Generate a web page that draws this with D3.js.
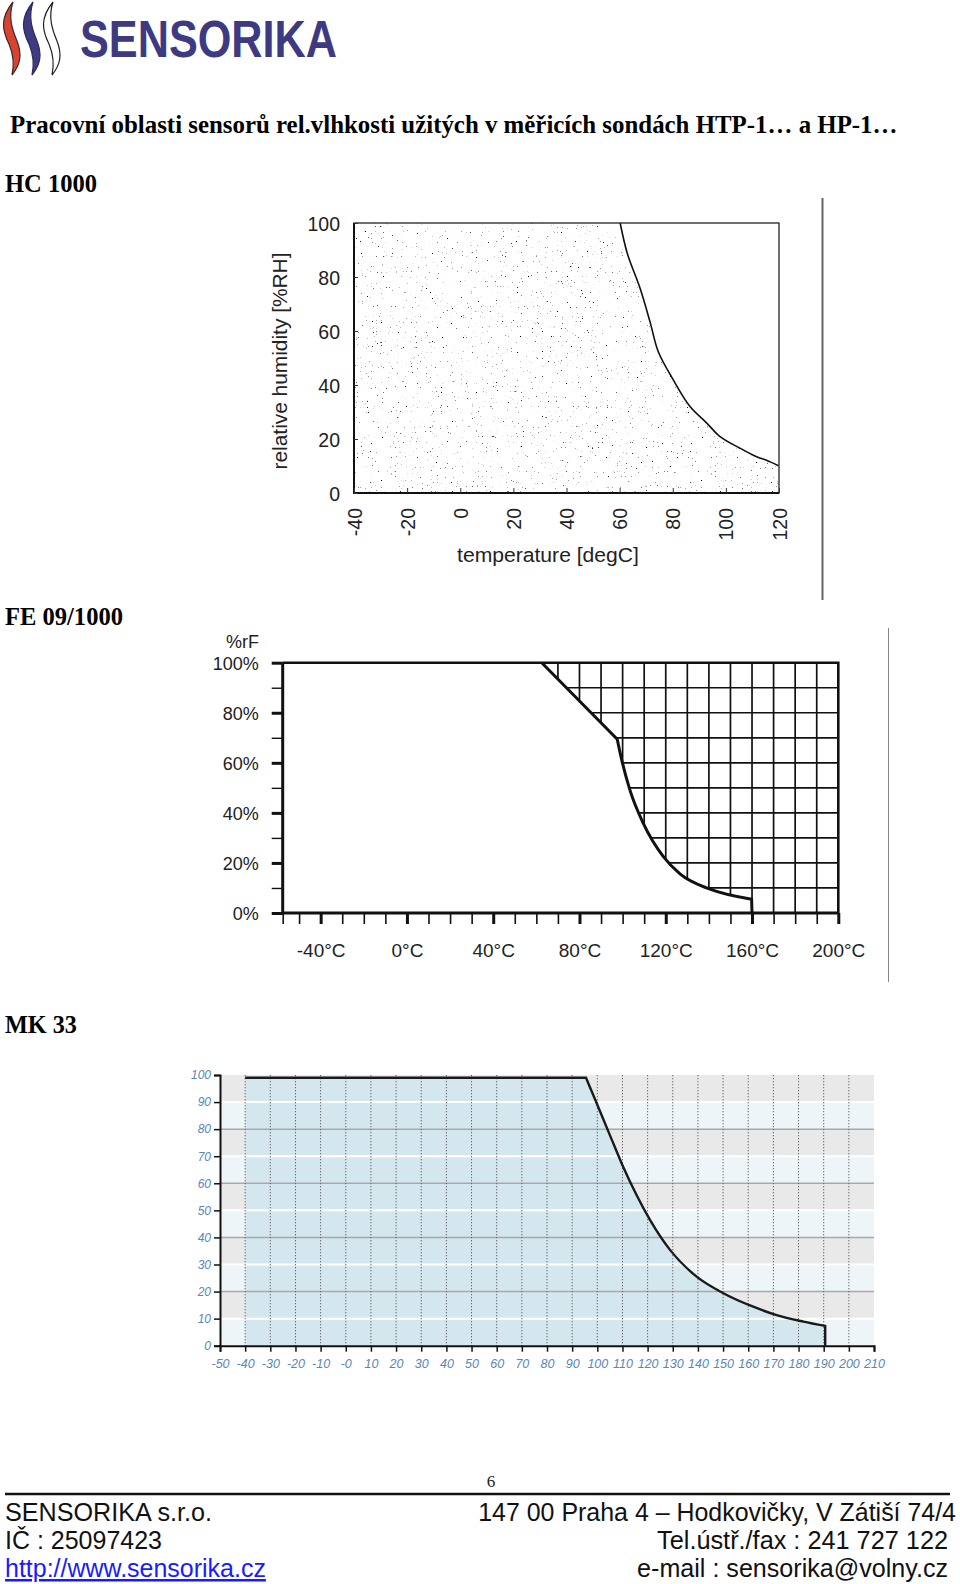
<!DOCTYPE html>
<html>
<head>
<meta charset="utf-8">
<script src="https://cdn.jsdelivr.net/npm/d3@7"></script>
<style>
  body { margin: 0; background: #fff; }
  svg { display: block; }
</style>
</head>
<body>
<div id="page"></div>
<script>
// ---- data ----
// HC 1000 : upper limit of the working area (temperature degC, %RH)
var hcTemp = [60.2, 62.9, 67.7, 71.5, 74.6, 80.2, 86.5, 92.8, 97.8, 105.3, 111.6, 115.3, 119.8];
var hcRh   = [100, 88.7, 75.8, 63.2, 52.2, 41.9, 32, 25.9, 20.9, 16.6, 13.4, 12.1, 10.1];
var hcXTicks = [-40, -20, 0, 20, 40, 60, 80, 100, 120];
var hcYTicks = [0, 20, 40, 60, 80, 100];

// FE 09/1000 : border of the hatched (not allowed) area
var feLineTemp  = [62.5, 97.5];
var feLineRh    = [100, 69.4];
var feCurveTemp = [97.5, 99.6, 103.4, 109.6, 118.9, 126.6, 140.5, 159.8];
var feCurveRh   = [69.4, 61.1, 49.1, 35.8, 22.5, 15.6, 9.5, 5.5];
var feXLabels = ["-40°C", "0°C", "40°C", "80°C", "120°C", "160°C", "200°C"];
var feXLabelTemp = [-40, 0, 40, 80, 120, 160, 200];
var feYLabels = ["0%", "20%", "40%", "60%", "80%", "100%"];

// MK 33 : working area
var mkFlatTemp = [-40, 95.5];
var mkFlatRh = 99;
var mkTemp = [95.5, 100, 105, 110, 115.7, 121, 128.9, 139.5, 150.1, 162, 171.3, 181.9, 190.6];
var mkRh   = [99, 89, 77.8, 66.7, 55.5, 46.4, 35.4, 25.5, 19.4, 14.4, 11.3, 8.9, 7.3];
var mkXLabels = ["-50","-40","-30","-20","-10","-0","10","20","30","40","50","60","70","80","90","100",
                 "110","120","130","140","150","160","170","180","190","200","210"];
var mkYTicks = [0, 10, 20, 30, 40, 50, 60, 70, 80, 90, 100];

var sans = "Liberation Sans, Arial, sans-serif";
var serif = "Liberation Serif, Times New Roman, serif";

var svg = d3.select("#page").append("svg")
  .attr("width", 960).attr("height", 1584);
svg.append("rect").attr("width", 960).attr("height", 1584).attr("fill", "#fff");
var defs = svg.append("defs");

// scale a text's font size so that it fills a given width
function fit(sel, w) {
  var fs = parseFloat(sel.attr("font-size"));
  var l = sel.node().getComputedTextLength();
  sel.attr("font-size", (fs * w / l).toFixed(2));
  return sel;
}

// ---- logo ----
var flames = [{ x: 4, fill: "#d8432f", stroke: "#3b2a2a" },
              { x: 24, fill: "#3f3b82", stroke: "#2c2960" },
              { x: 44, fill: "#fff", stroke: "#222" }];
function flamePath(o) {
  return "M" + (o + 9) + ",2" +
    "C" + (o - 4) + ",18 " + (o - 2) + ",30 " + (o + 5) + ",44" +
    "C" + (o + 10) + ",56 " + (o + 10) + ",66 " + (o + 8) + ",75" +
    "C" + (o + 17) + ",64 " + (o + 18) + ",54 " + (o + 13) + ",41" +
    "C" + (o + 8) + ",29 " + (o + 4) + ",17 " + (o + 9) + ",2Z";
}
svg.selectAll(".flame").data(flames).enter().append("path")
  .attr("class", "flame")
  .attr("d", function (d) { return flamePath(d.x); })
  .attr("fill", function (d) { return d.fill; })
  .attr("stroke", function (d) { return d.stroke; })
  .attr("stroke-width", 1.2);

svg.append("text")
  .attr("x", 80).attr("y", 57)
  .attr("font-family", sans).attr("font-weight", "bold")
  .attr("font-size", 51).attr("fill", "#3d3a82")
  .attr("textLength", 257).attr("lengthAdjust", "spacingAndGlyphs")
  .text("SENSORIKA");

// ---- headings ----
fit(svg.append("text").attr("x", 10).attr("y", 133)
  .attr("font-family", serif).attr("font-weight", "bold").attr("font-size", 22)
  .text("Pracovní oblasti sensorů rel.vlhkosti užitých v měřicích sondách HTP-1… a HP-1…"), 888);
fit(svg.append("text").attr("x", 5).attr("y", 192)
  .attr("font-family", serif).attr("font-weight", "bold").attr("font-size", 24)
  .text("HC 1000"), 92);
fit(svg.append("text").attr("x", 5).attr("y", 625)
  .attr("font-family", serif).attr("font-weight", "bold").attr("font-size", 24)
  .text("FE 09/1000"), 118);
fit(svg.append("text").attr("x", 5).attr("y", 1033)
  .attr("font-family", serif).attr("font-weight", "bold").attr("font-size", 24)
  .text("MK 33"), 72);

// =================== HC 1000 ===================
var x1 = d3.scaleLinear().domain([-40, 120]).range([354, 779]);
var y1 = d3.scaleLinear().domain([0, 100]).range([493, 223]);
var hcPts = hcTemp.map(function (t, i) { return [t, hcRh[i]]; });
var hcLine = d3.line().x(function (d) { return x1(d[0]); }).y(function (d) { return y1(d[1]); })
  .curve(d3.curveCatmullRom.alpha(0.5));

// sparse stipple texture of the allowed area
var stip = defs.append("filter").attr("id", "stipple")
  .attr("x", 0).attr("y", 0).attr("width", 1).attr("height", 1)
  .attr("color-interpolation-filters", "sRGB");
stip.append("feTurbulence").attr("type", "fractalNoise").attr("baseFrequency", 0.8)
  .attr("numOctaves", 2).attr("seed", 11);
stip.append("feColorMatrix").attr("type", "matrix")
  .attr("values", "0 0 0 0 0  0 0 0 0 0  0 0 0 0 0  7 0 0 0 -5.05");

var areaD = "M" + x1(-40) + "," + y1(0) + "L" + x1(-40) + "," + y1(100) +
  hcLine(hcPts).replace(/^M/, "L") + "L" + x1(120) + "," + y1(0) + "Z";
defs.append("clipPath").attr("id", "hcClip").append("path").attr("d", areaD);
svg.append("g").attr("clip-path", "url(#hcClip)")
  .append("rect")
  .attr("x", x1(-40)).attr("y", y1(100))
  .attr("width", x1(120) - x1(-40)).attr("height", y1(0) - y1(100))
  .attr("fill", "#000").attr("filter", "url(#stipple)");

svg.append("path").attr("d", hcLine(hcPts))
  .attr("fill", "none").attr("stroke", "#111").attr("stroke-width", 1.6);

// frame
svg.append("rect").attr("x", x1(-40)).attr("y", y1(100))
  .attr("width", x1(120) - x1(-40)).attr("height", y1(0) - y1(100))
  .attr("fill", "none").attr("stroke", "#222").attr("stroke-width", 1.3);
svg.append("path")
  .attr("d", "M" + x1(-40) + "," + y1(100) + "V" + y1(0) + "H" + x1(120))
  .attr("fill", "none").attr("stroke", "#111").attr("stroke-width", 2);

var gx1 = svg.append("g").attr("transform", "translate(0," + y1(0) + ")")
  .call(d3.axisBottom(x1).tickValues(hcXTicks).tickSize(-5).tickPadding(0).tickFormat(String));
gx1.select(".domain").remove();
gx1.selectAll(".tick line").attr("stroke", "#333");
gx1.selectAll(".tick text")
  .attr("font-family", sans).attr("font-size", 19.5).attr("fill", "#222")
  .attr("text-anchor", "end").attr("y", 0).attr("dy", "0.36em")
  .attr("transform", "translate(0,15) rotate(-90)");

var gy1 = svg.append("g").attr("transform", "translate(" + x1(-40) + ",0)")
  .call(d3.axisLeft(y1).tickValues(hcYTicks).tickSize(-4).tickPadding(0));
gy1.select(".domain").remove();
gy1.selectAll(".tick line").attr("stroke", "#333");
gy1.selectAll(".tick text")
  .attr("font-family", sans).attr("font-size", 19.5).attr("fill", "#222")
  .attr("x", -14).attr("dy", "0.36em");

fit(svg.append("text")
  .attr("transform", "translate(279,361) rotate(-90)")
  .attr("text-anchor", "middle").attr("dy", "0.36em")
  .attr("font-family", sans).attr("font-size", 18).attr("fill", "#222")
  .text("relative humidity [%RH]"), 217);
fit(svg.append("text")
  .attr("x", 548).attr("y", 562).attr("text-anchor", "middle")
  .attr("font-family", sans).attr("font-size", 18).attr("fill", "#222")
  .text("temperature [degC]"), 182);

svg.append("line").attr("x1", 822.5).attr("x2", 822.5).attr("y1", 198).attr("y2", 600)
  .attr("stroke", "#666").attr("stroke-width", 2);

// =================== FE 09/1000 ===================
var x2 = d3.scaleLinear().domain([-57.6, 200]).range([282.7, 838.3]);
var y2 = d3.scaleLinear().domain([0, 100]).range([913, 662.7]);
var feLin = d3.line().x(function (d) { return x2(d[0]); }).y(function (d) { return y2(d[1]); });
var feCur = d3.line().x(function (d) { return x2(d[0]); }).y(function (d) { return y2(d[1]); })
  .curve(d3.curveMonotoneX);
var fePtsA = feLineTemp.map(function (t, i) { return [t, feLineRh[i]]; });
var fePtsB = feCurveTemp.map(function (t, i) { return [t, feCurveRh[i]]; });
var feBorder = feLin(fePtsA) + feCur(fePtsB).replace(/^M[^A-Z]*/, "") +
  "L" + x2(160) + "," + y2(0);
var hatchD = feBorder + "L" + x2(200) + "," + y2(0) + "L" + x2(200) + "," + y2(100) + "Z";
defs.append("clipPath").attr("id", "feClip").append("path").attr("d", hatchD);

var gGrid2 = svg.append("g").attr("clip-path", "url(#feClip)");
gGrid2.selectAll(".vg").data(d3.range(50, 200, 10)).enter().append("line")
  .attr("x1", function (d) { return x2(d); }).attr("x2", function (d) { return x2(d); })
  .attr("y1", y2(100)).attr("y2", y2(0))
  .attr("stroke", "#111").attr("stroke-width", 1.7);
gGrid2.selectAll(".hg").data(d3.range(10, 100, 10)).enter().append("line")
  .attr("x1", x2(50)).attr("x2", x2(200))
  .attr("y1", function (d) { return y2(d); }).attr("y2", function (d) { return y2(d); })
  .attr("stroke", "#111").attr("stroke-width", 1.7);

svg.append("path").attr("d", feBorder)
  .attr("fill", "none").attr("stroke", "#111").attr("stroke-width", 3);

// frame lines
svg.append("path")
  .attr("d", "M" + x2(-57.6) + "," + y2(100) + "H" + x2(200) + "V" + y2(0))
  .attr("fill", "none").attr("stroke", "#111").attr("stroke-width", 2.6);
svg.append("path")
  .attr("d", "M" + x2(-57.6) + "," + y2(100) + "V" + y2(0) + "H" + x2(200))
  .attr("fill", "none").attr("stroke", "#111").attr("stroke-width", 3);

var gy2 = svg.append("g").attr("transform", "translate(" + x2(-57.6) + ",0)")
  .call(d3.axisLeft(y2).tickValues(d3.range(0, 101, 10)).tickSize(11)
    .tickFormat(function (d) { return d % 20 === 0 ? feYLabels[d / 20] : ""; }));
gy2.select(".domain").remove();
gy2.selectAll(".tick line").attr("stroke", "#111")
  .attr("stroke-width", function (d) { return d % 20 === 0 ? 3 : 1.4; });
gy2.selectAll(".tick text")
  .attr("font-family", sans).attr("font-size", 18).attr("fill", "#222")
  .attr("x", -24).attr("dy", "0.36em");
svg.append("text").attr("x", 259).attr("y", 648).attr("text-anchor", "end")
  .attr("font-family", sans).attr("font-size", 18).attr("fill", "#222").text("%rF");

var gx2 = svg.append("g").attr("transform", "translate(0," + y2(0) + ")")
  .call(d3.axisBottom(x2).tickValues([-57.6].concat(d3.range(-50, 201, 10))).tickSize(11)
    .tickFormat(function (d) { var i = feXLabelTemp.indexOf(d); return i < 0 ? "" : feXLabels[i]; }));
gx2.select(".domain").remove();
gx2.selectAll(".tick line").attr("stroke", "#111")
  .attr("stroke-width", function (d) { return feXLabelTemp.indexOf(d) >= 0 ? 3 : 1.6; });
gx2.selectAll(".tick text")
  .attr("font-family", sans).attr("font-size", 19).attr("fill", "#222")
  .attr("y", 37).attr("dy", "0.36em");

svg.append("line").attr("x1", 888.5).attr("x2", 888.5).attr("y1", 628).attr("y2", 982)
  .attr("stroke", "#888").attr("stroke-width", 1);

// =================== MK 33 ===================
var x3 = d3.scaleLinear().domain([-50, 210]).range([220, 874]);
var y3 = d3.scaleLinear().domain([0, 100]).range([1345.7, 1075]);

// alternating bands
svg.selectAll(".band").data(d3.range(0, 100, 10)).enter().append("rect")
  .attr("x", x3(-50)).attr("width", x3(210) - x3(-50))
  .attr("y", function (d) { return y3(d + 10); })
  .attr("height", function (d) { return y3(d) - y3(d + 10); })
  .attr("fill", function (d) { return (d / 10) % 2 === 1 ? "#e9e9e9" : "#eef5f9"; });

var mkPts = mkTemp.map(function (t, i) { return [t, mkRh[i]]; });
var mkCur = d3.line().x(function (d) { return x3(d[0]); }).y(function (d) { return y3(d[1]); })
  .curve(d3.curveMonotoneX);
var mkBorder = "M" + x3(mkFlatTemp[0]) + "," + y3(mkFlatRh) +
  mkCur(mkPts).replace(/^M/, "L") + "L" + x3(mkTemp[mkTemp.length - 1]) + "," + y3(0);
svg.append("path")
  .attr("d", "M" + x3(mkFlatTemp[0]) + "," + y3(0) + mkBorder.replace(/^M/, "L") + "Z")
  .attr("fill", "#d4e7ef");

svg.selectAll(".hl").data(d3.range(10, 100, 10)).enter().append("line")
  .attr("x1", x3(-50)).attr("x2", x3(210))
  .attr("y1", function (d) { return y3(d); }).attr("y2", function (d) { return y3(d); })
  .attr("stroke", function (d) { return d % 20 === 0 ? "#a9a9a9" : "#fff"; })
  .attr("stroke-width", function (d) { return d % 20 === 0 ? 1.5 : 2; });

svg.selectAll(".vl").data(d3.range(-40, 201, 10)).enter().append("line")
  .attr("x1", function (d) { return x3(d); }).attr("x2", function (d) { return x3(d); })
  .attr("y1", y3(100)).attr("y2", y3(0))
  .attr("stroke", "#666").attr("stroke-width", 1).attr("stroke-dasharray", "1.3,1.7");

svg.append("path").attr("d", mkBorder)
  .attr("fill", "none").attr("stroke", "#1a1a1a").attr("stroke-width", 2.4);

var gy3 = svg.append("g").attr("transform", "translate(" + x3(-50) + ",0)")
  .call(d3.axisLeft(y3).tickValues(mkYTicks).tickSize(6).tickPadding(3));
gy3.select(".domain").attr("stroke", "#111").attr("stroke-width", 2);
gy3.selectAll(".tick line").attr("stroke", "#111").attr("stroke-width", 1.5);
gy3.selectAll(".tick text")
  .attr("font-family", sans).attr("font-style", "italic").attr("font-size", 12)
  .attr("fill", "#5b86b3");

var gx3 = svg.append("g").attr("transform", "translate(0," + y3(0) + ")")
  .call(d3.axisBottom(x3).tickValues(d3.range(-50, 211, 10)).tickSize(6).tickPadding(7)
    .tickFormat(function (d, i) { return mkXLabels[i]; }));
gx3.select(".domain").attr("stroke", "#111").attr("stroke-width", 2);
gx3.selectAll(".tick line").attr("stroke", "#111").attr("stroke-width", 1.5);
gx3.selectAll(".tick text")
  .attr("font-family", sans).attr("font-style", "italic").attr("font-size", 12.5)
  .attr("fill", "#5b86b3");

// =================== footer ===================
svg.append("text").attr("x", 491).attr("y", 1487).attr("text-anchor", "middle")
  .attr("font-family", serif).attr("font-size", 17).attr("fill", "#222").text("6");
svg.append("line").attr("x1", 5).attr("x2", 950).attr("y1", 1494).attr("y2", 1494)
  .attr("stroke", "#111").attr("stroke-width", 2.5);

var footLeft = [
  { t: "SENSORIKA s.r.o.", y: 1521, w: 207, c: "#111" },
  { t: "IČ : 25097423", y: 1549, w: 157, c: "#111" },
  { t: "http://www.sensorika.cz", y: 1577, w: 261, c: "#1a1aff", u: true }];
var footRight = [
  { t: "147 00 Praha 4 – Hodkovičky, V Zátiší 74/4", y: 1521, x: 956, w: 478 },
  { t: "Tel.ústř./fax : 241 727 122", y: 1549, x: 948, w: 291 },
  { t: "e-mail : sensorika@volny.cz", y: 1577, x: 948, w: 311 }];
footLeft.forEach(function (d) {
  var t = svg.append("text").attr("x", 5).attr("y", d.y)
    .attr("font-family", sans).attr("font-size", 23).attr("fill", d.c).text(d.t);
  fit(t, d.w);
  if (d.u) t.attr("text-decoration", "underline");
});
footRight.forEach(function (d) {
  var t = svg.append("text").attr("x", d.x).attr("y", d.y).attr("text-anchor", "end")
    .attr("font-family", sans).attr("font-size", 23).attr("fill", "#111").text(d.t);
  fit(t, d.w);
});
</script>
</body>
</html>
